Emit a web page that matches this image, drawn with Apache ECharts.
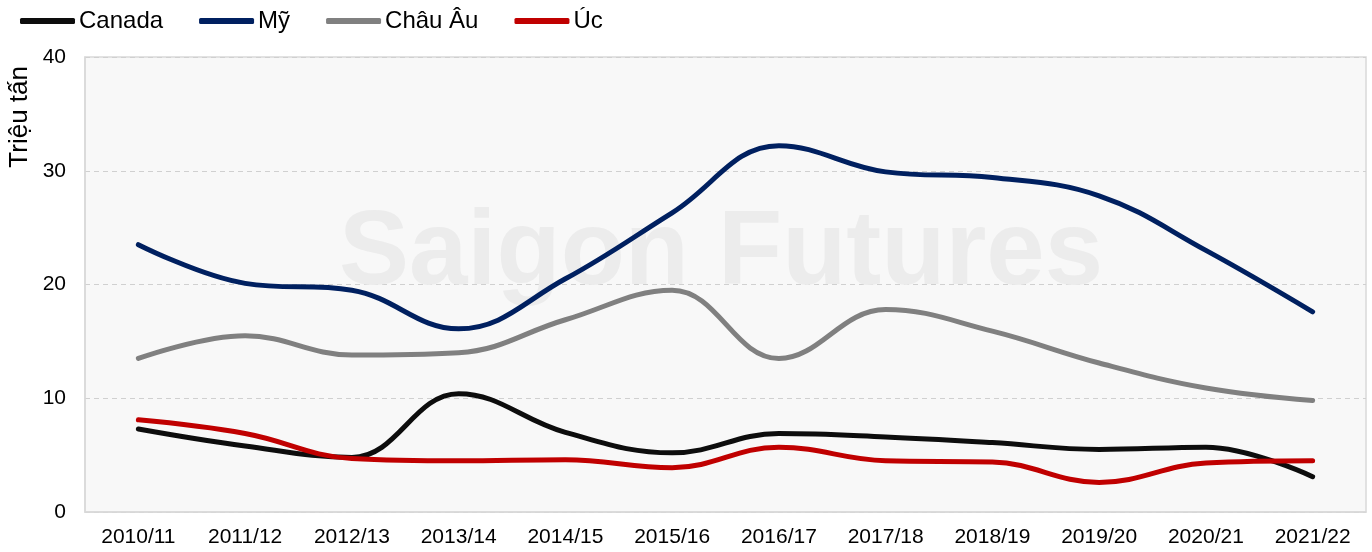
<!DOCTYPE html>
<html><head><meta charset="utf-8">
<script src="https://cdn.jsdelivr.net/npm/echarts@6/dist/echarts.min.js"></script>
<style>html,body{margin:0;padding:0;background:#fff}#c{width:1372px;height:552px}</style>
</head><body><div id="c"></div>
<script>
const categories = ['2010/11','2011/12','2012/13','2013/14','2014/15','2015/16','2016/17','2017/18','2018/19','2019/20','2020/21','2021/22'];
const canada = [7.3, 5.8, 4.8, 10.4, 7.0, 5.2, 6.9, 6.6, 6.1, 5.5, 5.7, 3.1];
const my = [23.5, 20.1, 19.5, 16.1, 20.5, 26.3, 32.2, 29.9, 29.4, 27.8, 23.0, 17.6];
const chauAu = [13.5, 15.5, 13.8, 14.0, 16.9, 19.5, 13.5, 17.8, 15.9, 13.1, 10.9, 9.8];
const uc = [8.1, 6.9, 4.7, 4.5, 4.6, 3.9, 5.7, 4.5, 4.4, 2.6, 4.3, 4.5];
const yTicks = [0, 10, 20, 30, 40];

const chart = echarts.init(document.getElementById('c'));
const font = 'Liberation Sans, Arial, sans-serif';
function mk(name, data, color) {
  return { name, type: 'line', data, smooth: 0.4, symbol: 'none',
    lineStyle: { color, width: 5, cap: 'round' }, itemStyle: { color }, z: 3 };
}
chart.setOption({
  animation: false,
  textStyle: { fontFamily: font },
  legend: {
    left: 15, top: 4, itemWidth: 55, itemHeight: 6, itemGap: 36, icon: 'roundRect',
    textStyle: { fontSize: 24, color: '#000', fontFamily: font, padding: [0,0,0,-1] },
    data: ['Canada','Mỹ','Châu Âu','Úc']
  },
  grid: { left: 85, right: 6, top: 57, bottom: 40, show: true, backgroundColor: '#f8f8f8', borderColor: '#d9d9d9', borderWidth: 1.5 },
  graphic: [{ type: 'text', z: 1, style: { text: 'Saigon Futures', x: 721, y: 255, align: 'center', verticalAlign: 'middle', font: 'bold 105px Liberation Sans, Arial, sans-serif', fill: '#ececec' } }],
  xAxis: { type: 'category', data: categories, boundaryGap: true,
    axisLine: { show: true, lineStyle: { color: '#d9d9d9', width: 1.5 } }, axisTick: { show: false },
    axisLabel: { fontSize: 21, color: '#000', margin: 15, interval: 0 } },
  yAxis: { type: 'value', min: yTicks[0], max: yTicks[yTicks.length-1], interval: 10,
    name: 'Triệu tấn', nameLocation: 'end', nameRotate: 90, nameGap: 0,
    nameTextStyle: { fontSize: 26, color: '#000', align: 'right', verticalAlign: 'bottom', padding: [0,9,52,0] },
    axisLine: { show: true, lineStyle: { color: '#d9d9d9', width: 1.5 } }, axisTick: { show: false },
    axisLabel: { fontSize: 21, color: '#000', margin: 19 },
    splitLine: { show: true, lineStyle: { color: '#d0d0d0', type: [5, 4], width: 1.2 } } },
  series: [mk('Canada', canada, '#0d0d0d'), mk('Mỹ', my, '#002060'), mk('Châu Âu', chauAu, '#808080'), mk('Úc', uc, '#c00000')]
});
</script></body></html>
